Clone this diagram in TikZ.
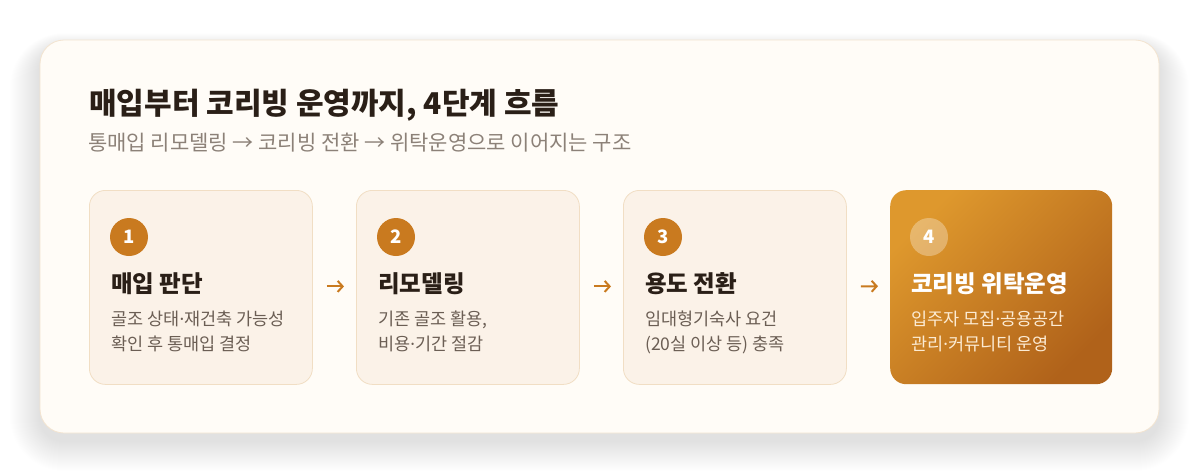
\documentclass[tikz,border=0pt]{standalone}
\usepackage{fontspec}
\setmainfont{Noto Sans CJK KR}
\newfontfamily\dotfont{Noto Sans}
\newcommand{\mdot}{{\dotfont ·}}
\usetikzlibrary{arrows.meta}
\definecolor{pagebg}{HTML}{FFFFFF}
\definecolor{outerfill}{HTML}{FFFCF7}
\definecolor{outerline}{HTML}{F3E4D0}
\definecolor{cardfill}{HTML}{FBF2E8}
\definecolor{cardline}{HTML}{F1DEC4}
\definecolor{accent}{HTML}{C97A1F}
\definecolor{titlecol}{HTML}{2A1F17}
\definecolor{subcol}{HTML}{8C8178}
\definecolor{desccol}{HTML}{6B5E54}
\definecolor{hotdesc}{HTML}{FCEBD3}
\definecolor{gradA}{HTML}{DE982D}
\definecolor{gradB}{HTML}{B0621A}
\tikzset{
  outer/.style={draw=outerline, line width=0.8pt, fill=outerfill, rounded corners=24pt},
  card/.style={draw=cardline, line width=0.8pt, fill=cardfill, rounded corners=16pt,
    minimum width=223pt, minimum height=194pt, anchor=north west, inner sep=0pt},
  hotcard/.style={rounded corners=16pt, top color=gradA, bottom color=gradB, shading angle=45,
    minimum width=222pt, minimum height=194pt, anchor=north west, inner sep=0pt},
  badge/.style={circle, fill=accent, minimum size=38pt, inner sep=0pt, text=white,
    font=\fontsize{18.5pt}{19pt}\bfseries},
  hotbadge/.style={circle, fill=white, fill opacity=0.3, text opacity=1, minimum size=38pt, inner sep=0pt, text=white,
    font=\fontsize{18.5pt}{19pt}\bfseries},
  ctitle/.style={anchor=base west, inner sep=0pt, text=titlecol, font=\fontsize{23.5pt}{24pt}\bfseries},
  cdesc/.style={anchor=base west, inner sep=0pt, text=desccol, font=\fontsize{17.5pt}{18pt}\selectfont},
  stepar/.style={draw=accent, line width=2pt, -{Straight Barb[length=5pt,width=11pt]}}
}
\begin{document}
\begin{tikzpicture}[x=1pt,y=1pt]
\useasboundingbox (0,0) rectangle (1200,-474);
\fill[pagebg] (0,0) rectangle (1200,-474);
\foreach \i in {1,...,30}{
  \fill[black, opacity=0.0022, rounded corners=24pt+\i pt] (40-\i,-48+0.5*\i) rectangle (1159+\i,-441-\i);
}
\path[outer] (40,-40) rectangle (1159,-433);

\node[anchor=base west, inner sep=0pt, text=titlecol, font=\fontsize{30pt}{30pt}\bfseries] (title) at (89,-114) {매입부터 코리빙 운영까지, 4단계 흐름};
\node[anchor=base west, inner sep=0pt, text=subcol, font=\fontsize{21pt}{21pt}\selectfont] (sub) at (88,-150) {통매입 리모델링 → 코리빙 전환 → 위탁운영으로 이어지는 구조};

\node[card] (c1) at (89,-190) {};
\node[card] (c2) at (356,-190) {};
\node[card] (c3) at (623,-190) {};
\node[hotcard] (c4) at (890,-190) {};

\node[badge] (b1) at (129,-237) {1};
\node[badge] (b2) at (396,-237) {2};
\node[badge] (b3) at (663,-237) {3};
\node[hotbadge] (b4) at (929,-237) {4};

\node[ctitle] (t1) at (111,-292) {매입 판단};
\node[ctitle] (t2) at (378,-292) {리모델링};
\node[ctitle] (t3) at (645,-292) {용도 전환};
\node[ctitle, text=white] (t4) at (911,-292) {코리빙 위탁운영};

\node[cdesc] (d1a) at (111,-325.5) {골조 상태\mdot 재건축 가능성};
\node[cdesc] (d1b) at (111,-350) {확인 후 통매입 결정};
\node[cdesc] (d2a) at (378,-325.5) {기존 골조 활용,};
\node[cdesc] (d2b) at (378,-350) {비용\mdot 기간 절감};
\node[cdesc] (d3a) at (645,-325.5) {임대형기숙사 요건};
\node[cdesc] (d3b) at (645,-350) {(20실 이상 등) 충족};
\node[cdesc, text=hotdesc] (d4a) at (911,-325.5) {입주자 모집\mdot 공용공간};
\node[cdesc, text=hotdesc] (d4b) at (911,-350) {관리\mdot 커뮤니티 운영};

\draw[stepar] ([xshift=14pt,yshift=1pt]c1.east) -- ([xshift=-12pt,yshift=1pt]c2.west);
\draw[stepar] ([xshift=14pt,yshift=1pt]c2.east) -- ([xshift=-12pt,yshift=1pt]c3.west);
\draw[stepar] ([xshift=14pt,yshift=1pt]c3.east) -- ([xshift=-12pt,yshift=1pt]c4.west);
\end{tikzpicture}
\end{document}
